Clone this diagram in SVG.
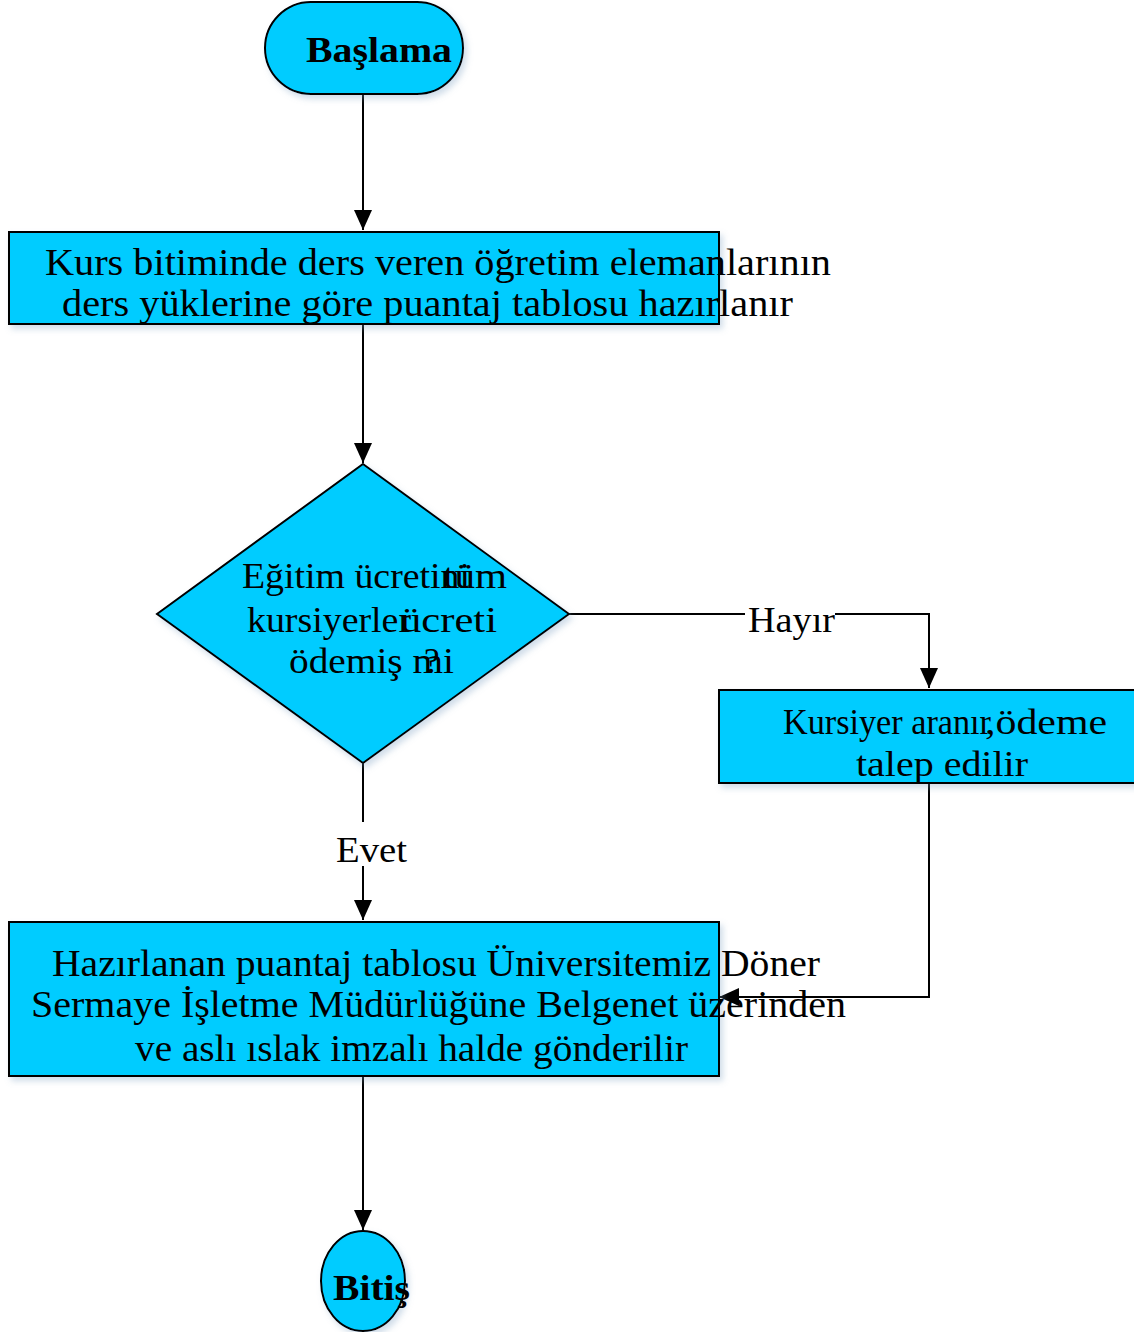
<svg xmlns="http://www.w3.org/2000/svg" width="1134" height="1332" viewBox="0 0 1134 1332">
<defs>
<style>
.n{fill:#00CCFF;stroke:#000;stroke-width:2;filter:url(#sh)}
.t{font-family:"Liberation Serif",serif;font-size:35px;fill:#000}
.w{font-family:"Liberation Serif",serif;font-size:38px;fill:#000}
.b{font-family:"Liberation Serif",serif;font-size:35px;font-weight:bold;fill:#000}
.c{fill:none;stroke:#000;stroke-width:2}
</style>
<filter id="sh" x="-10%" y="-10%" width="130%" height="130%">
<feDropShadow dx="3" dy="4" stdDeviation="3" flood-color="#7a9cc0" flood-opacity="0.35"/>
</filter>
<marker id="ar" viewBox="0 0 20 20" refX="20" refY="10" markerWidth="20" markerHeight="20" markerUnits="userSpaceOnUse" orient="auto">
<path d="M0,1 L20,10 L0,19 Z" fill="#000"/>
</marker>
</defs>
<rect width="1134" height="1332" fill="#fff"/>
<g id="connectors">
<line class="c" x1="363" y1="94" x2="363" y2="230" marker-end="url(#ar)"/>
<line class="c" x1="363" y1="324" x2="363" y2="463" marker-end="url(#ar)"/>
<polyline class="c" points="569,614 929,614 929,688" marker-end="url(#ar)"/>
<rect x="745" y="600" width="90" height="36" fill="#fff"/>
<text class="t" x="748" y="632" textLength="87" lengthAdjust="spacingAndGlyphs">Hayır</text>
<line class="c" x1="363" y1="763" x2="363" y2="920" marker-end="url(#ar)"/>
<rect x="333" y="822" width="78" height="44" fill="#fff"/>
<text class="t" x="336" y="862" textLength="71" lengthAdjust="spacingAndGlyphs">Evet</text>
<polyline class="c" points="929,783 929,997 719,997" marker-end="url(#ar)"/>
<line class="c" x1="363" y1="1076" x2="363" y2="1230" marker-end="url(#ar)"/>
</g>
<g id="start">
<rect class="n" x="265" y="2" width="198" height="92" rx="46" ry="46"/>
<text class="b" x="306" y="62" textLength="146" lengthAdjust="spacingAndGlyphs">Başlama</text>
</g>
<g id="box1">
<rect class="n" x="9" y="232" width="710" height="92"/>
<text class="w" x="45" y="275" textLength="786" lengthAdjust="spacingAndGlyphs">Kurs bitiminde ders veren öğretim elemanlarının</text>
<text class="w" x="62" y="316" textLength="731" lengthAdjust="spacingAndGlyphs">ders yüklerine göre puantaj tablosu hazırlanır</text>
</g>
<g id="decision">
<polygon class="n" points="363,464 569,614 363,763 157,614"/>
<text class="t"><tspan x="242" y="588" textLength="228" lengthAdjust="spacingAndGlyphs">Eğitim ücretini</tspan><tspan x="443" y="588" textLength="64" lengthAdjust="spacingAndGlyphs">tüm</tspan><tspan x="247" y="632" textLength="164" lengthAdjust="spacingAndGlyphs">kursiyerler</tspan><tspan x="400" y="632" textLength="97" lengthAdjust="spacingAndGlyphs">ücreti</tspan><tspan x="289" y="673" textLength="165" lengthAdjust="spacingAndGlyphs">ödemiş mi</tspan><tspan x="424" y="673">?</tspan></text>
</g>
<g id="box2">
<rect class="n" x="719" y="690" width="420" height="93"/>
<text class="t"><tspan x="783" y="734" textLength="208" lengthAdjust="spacingAndGlyphs">Kursiyer aranır</tspan><tspan x="985" y="734" textLength="122" lengthAdjust="spacingAndGlyphs">,ödeme</tspan><tspan x="856" y="776" textLength="172" lengthAdjust="spacingAndGlyphs">talep edilir</tspan></text>
</g>
<g id="box3">
<rect class="n" x="9" y="922" width="710" height="154"/>
<text class="w" x="52" y="976" textLength="768" lengthAdjust="spacingAndGlyphs">Hazırlanan puantaj tablosu Üniversitemiz Döner</text>
<text class="w" x="31" y="1017" textLength="815" lengthAdjust="spacingAndGlyphs">Sermaye İşletme Müdürlüğüne Belgenet üzerinden</text>
<text class="w" x="135" y="1061" textLength="553" lengthAdjust="spacingAndGlyphs">ve aslı ıslak imzalı halde gönderilir</text>
</g>
<g id="end">
<ellipse class="n" cx="363" cy="1281" rx="42" ry="50"/>
<text class="b" x="333" y="1300" textLength="77" lengthAdjust="spacingAndGlyphs">Bitiş</text>
</g>
</svg>
